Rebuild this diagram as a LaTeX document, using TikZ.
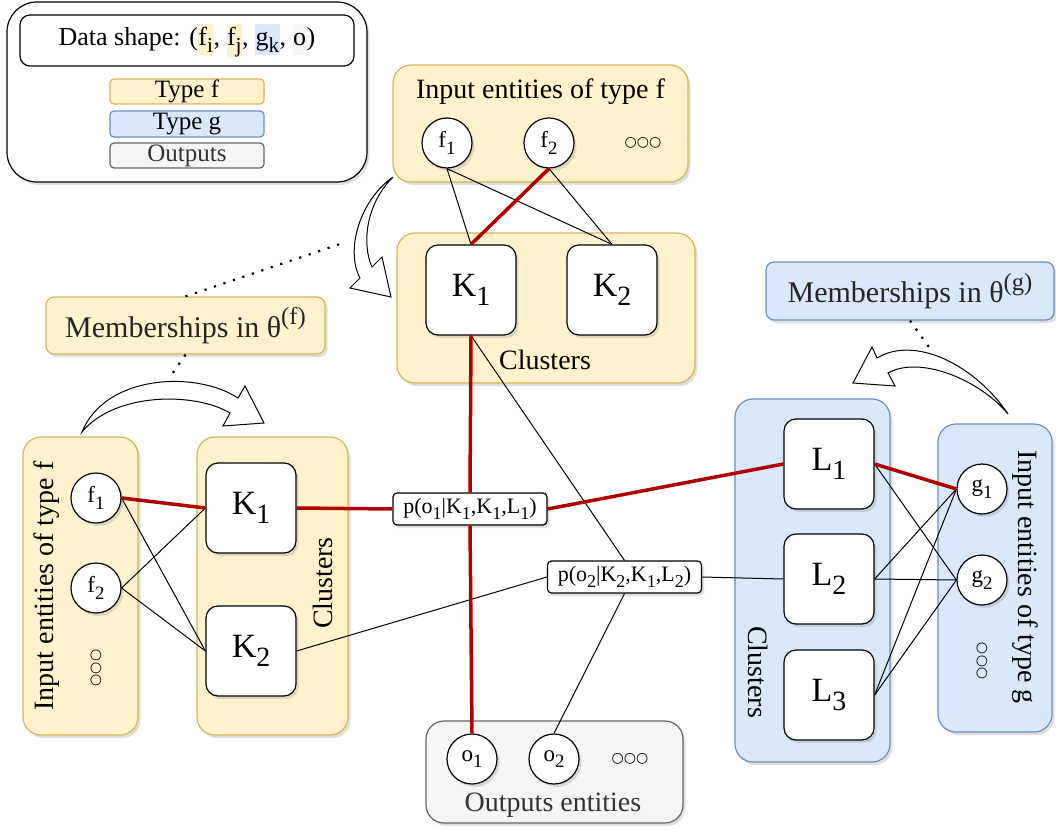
\documentclass[tikz,border=0pt]{standalone}
\usepackage{fontspec}
\setmainfont{Liberation Serif}
\newfontfamily\symfont{DejaVu Sans}
\usetikzlibrary{shadows}
\definecolor{fyel}{HTML}{FFF2CC}
\definecolor{fyeld}{HTML}{D6B656}
\definecolor{gblu}{HTML}{DAE8FC}
\definecolor{gblud}{HTML}{6C8EBF}
\definecolor{ogry}{HTML}{F5F5F5}
\definecolor{ogryd}{HTML}{666666}
\definecolor{otxt}{HTML}{333333}
\definecolor{linkred}{HTML}{B20000}
\newcommand{\lo}[1]{\raisebox{-0.27em}{\scalebox{0.82}{#1}}}
\newcommand{\hi}[1]{\raisebox{0.42em}{\scalebox{0.82}{#1}}}
\newcommand{\hlt}[2]{{\setlength{\fboxsep}{0.5pt}\colorbox{#1}{\strut #2}}}
\tikzset{
    dshadow/.style={
    drop shadow={shadow xshift=2.5pt,shadow yshift=-3pt,opacity=0.25}
    },
    fgroup/.style={
    rectangle,rounded corners=18pt,draw=fyeld,fill=fyel,line width=1.2pt,dshadow
    },
    ggroup/.style={
    rectangle,rounded corners=18pt,draw=gblud,fill=gblu,line width=1.2pt,dshadow
    },
    ogroup/.style={
    rectangle,rounded corners=18pt,draw=ogryd,fill=ogry,line width=1.2pt,dshadow
    },
    tag/.style={
    rectangle,rounded corners=4pt,line width=1.2pt,minimum width=154pt,inner sep=0pt,
    font=\fontsize{25}{28}\selectfont
    },
    memb/.style={
    rectangle,rounded corners=8pt,line width=1.2pt,inner sep=0pt,text=black!85,
    font=\fontsize{30}{32}\selectfont,dshadow
    },
    entity/.style={
    circle,draw=black,fill=white,line width=1.2pt,minimum size=50pt,inner sep=0pt,
    font=\fontsize{23}{26}\selectfont,dshadow
    },
    cluster/.style={
    rectangle,rounded corners=12pt,draw=black,fill=white,line width=1.2pt,minimum size=90pt,
    inner sep=0pt,font=\fontsize{34}{40}\selectfont,dshadow
    },
    factor/.style={
    rectangle,rounded corners=4pt,draw=black,fill=white,line width=1.2pt,minimum height=32pt,
    minimum width=154pt,inner xsep=4pt,inner ysep=0pt,font=\fontsize{22}{24}\selectfont,dshadow
    },
    title/.style={
    font=\fontsize{28}{32}\selectfont
    },
    dots/.style={
    font=\symfont\fontsize{14}{15}\selectfont
    },
    rlink/.style={
    draw=linkred,line width=3.5pt
    },
    blink/.style={
    draw=black,line width=1pt
    },
    flexarrow/.style={
    draw=black,fill=white,line width=1pt,line join=miter
    },
    hint/.style={
    draw=black,line width=2.2pt,dash pattern=on 2.2pt off 7.8pt
    },
}

\begin{document}
\begin{tikzpicture}[x=1pt, y=-1pt]
  \useasboundingbox (0,0) rectangle (1056,829);

  % legend
  \node[rectangle,rounded corners=30pt,draw=black,fill=white,line width=1.2pt,
        minimum width=360pt,minimum height=180pt,dshadow] (leg) at (187,92) {};
  \node[rectangle,rounded corners=10pt,draw=black,line width=1.2pt,
        minimum width=334pt,minimum height=51pt,inner sep=0pt,
        font=\fontsize{26}{30}\selectfont] (shape) at (187,40.5)
        {Data shape: (\hlt{fyel}{f\lo{i}}, \hlt{fyel}{f\lo{j}}, \hlt{gblu}{g\lo{k}}, \hlt{ogry}{o})};
  \node[tag,draw=fyeld,fill=fyel,minimum height=25pt] (typef) at (187,91.5) {Type f};
  \node[tag,draw=gblud,fill=gblu,minimum height=26pt] (typeg) at (187,124) {Type g};
  \node[tag,draw=ogryd,fill=ogry,text=otxt,minimum height=25pt] (typeo) at (187,155.5) {Outputs};

  % groups
  \node[fgroup,minimum width=295pt,minimum height=117pt] (tin) at (540.5,123.5) {};
  \node[fgroup,minimum width=298pt,minimum height=150pt] (tcl) at (546,308) {};
  \node[fgroup,minimum width=115pt,minimum height=298pt] (lin) at (80.5,586) {};
  \node[fgroup,minimum width=151pt,minimum height=298pt] (lcl) at (272.5,586) {};
  \node[ggroup,minimum width=155pt,minimum height=363pt] (rcl) at (812.5,580.5) {};
  \node[ggroup,minimum width=114pt,minimum height=308pt] (rin) at (995,578) {};
  \node[ogroup,minimum width=257pt,minimum height=102pt] (out) at (554.5,772) {};

  \node[title] (tintxt) at (540.5,92) {Input entities of type f};
  \node[title] (tcltxt) at (545,360) {Clusters};
  \node[title,rotate=90] (lintxt) at (47,586) {Input entities of type f};
  \node[title,rotate=90] (lcltxt) at (323,583) {Clusters};
  \node[title,rotate=-90] (rcltxt) at (758,672) {Clusters};
  \node[title,rotate=-90] (rintxt) at (1025,577) {Input entities of type g};
  \node[title,text=otxt] (outtxt) at (553,805) {Outputs entities};

  % memberships
  \node[memb,draw=fyeld,fill=fyel,minimum width=279pt,minimum height=57pt] (lmemb) at (185.5,325.5)
        {Memberships in θ\hi{(f)}};
  \node[memb,draw=gblud,fill=gblu,minimum width=288pt,minimum height=58pt] (rmemb) at (910,291)
        {Memberships in θ\hi{(g)}};

  % entities
  \node[entity] (tf1) at (447,143) {f\lo{1}};
  \node[entity] (tf2) at (549,143) {f\lo{2}};
  \node[dots] (tfd) at (643,143) {○○○};
  \node[entity] (lf1) at (96,498) {f\lo{1}};
  \node[entity] (lf2) at (96,588) {f\lo{2}};
  \node[dots,rotate=90] (lfd) at (96,668) {○○○};
  \node[entity] (g1) at (982,489) {g\lo{1}};
  \node[entity] (g2) at (982,580) {g\lo{2}};
  \node[dots,rotate=90] (gd) at (982,661) {○○○};
  \node[entity] (o1) at (472,759) {o\lo{1}};
  \node[entity] (o2) at (554,759) {o\lo{2}};
  \node[dots] (od) at (630,759) {○○○};

  % clusters
  \node[cluster] (tk1) at (471,290) {K\lo{1}};
  \node[cluster] (tk2) at (612,290) {K\lo{2}};
  \node[cluster] (lk1) at (251,508) {K\lo{1}};
  \node[cluster] (lk2) at (251,651) {K\lo{2}};
  \node[cluster] (rl1) at (829,464) {L\lo{1}};
  \node[cluster] (rl2) at (829,579) {L\lo{2}};
  \node[cluster] (rl3) at (829,695) {L\lo{3}};

  % factors
  \node[factor] (fac1) at (470,509) {p(o\lo{1}|K\lo{1},K\lo{1},L\lo{1})};
  \node[factor] (fac2) at (624.5,577) {p(o\lo{2}|K\lo{2},K\lo{1},L\lo{2})};

  % links
  \path[blink]
    (tf1.south) edge (tk1.north)
                edge (tk2.north)
    (tf2.south) edge (tk2.north)
    (lf1.east) edge (lk2.west)
    (lf2.east) edge (lk1.west)
               edge (lk2.west)
    (rl1.east) edge (g2.west)
    (rl2.east) edge (g1.west)
               edge (g2.west)
    (rl3.east) edge (g1.west)
               edge (g2.west)
    (tk1.south) edge (fac2.north)
    (lk2.east) edge (fac2.west)
    (fac2.east) edge (rl2.west)
    (fac2.south) edge (o2.north);
  \path[rlink]
    (tf2.south) edge (tk1.north)
    (lf1.east) edge (lk1.west)
    (rl1.east) edge (g1.west)
    (lk1.east) edge (fac1.west)
    (fac1.east) edge (rl1.west)
    (tk1.south) edge (fac1.north)
    (fac1.south) edge (o1.north);

  % membership arrows
  \draw[flexarrow] (393,177) .. controls (360,200) and (345,250) .. (360,278)
    -- (350,288) -- (391,297) -- (382,257) -- (372,267)
    .. controls (362,245) and (365,205) .. (393,177) -- cycle;
  \draw[flexarrow] (82,432) .. controls (105,375) and (195,370) .. (238,398)
    -- (245,386) -- (264,423) -- (223,426) -- (230,413)
    .. controls (195,392) and (115,392) .. (82,432) -- cycle;
  \draw[flexarrow] (1008,414) .. controls (975,365) and (915,335) .. (877,358)
    -- (872,347) -- (853,383) -- (895,386) -- (888,373)
    .. controls (920,355) and (980,380) .. (1008,414) -- cycle;

  \coordinate (ta) at (343,243);
  \coordinate (la) at (170,377);
  \coordinate (ra) at (931,350);
  \draw[hint] (lmemb.north) -- (ta);
  \draw[hint] (lmemb.south) -- (la);
  \draw[hint] (rmemb.south) -- (ra);
\end{tikzpicture}
\end{document}
